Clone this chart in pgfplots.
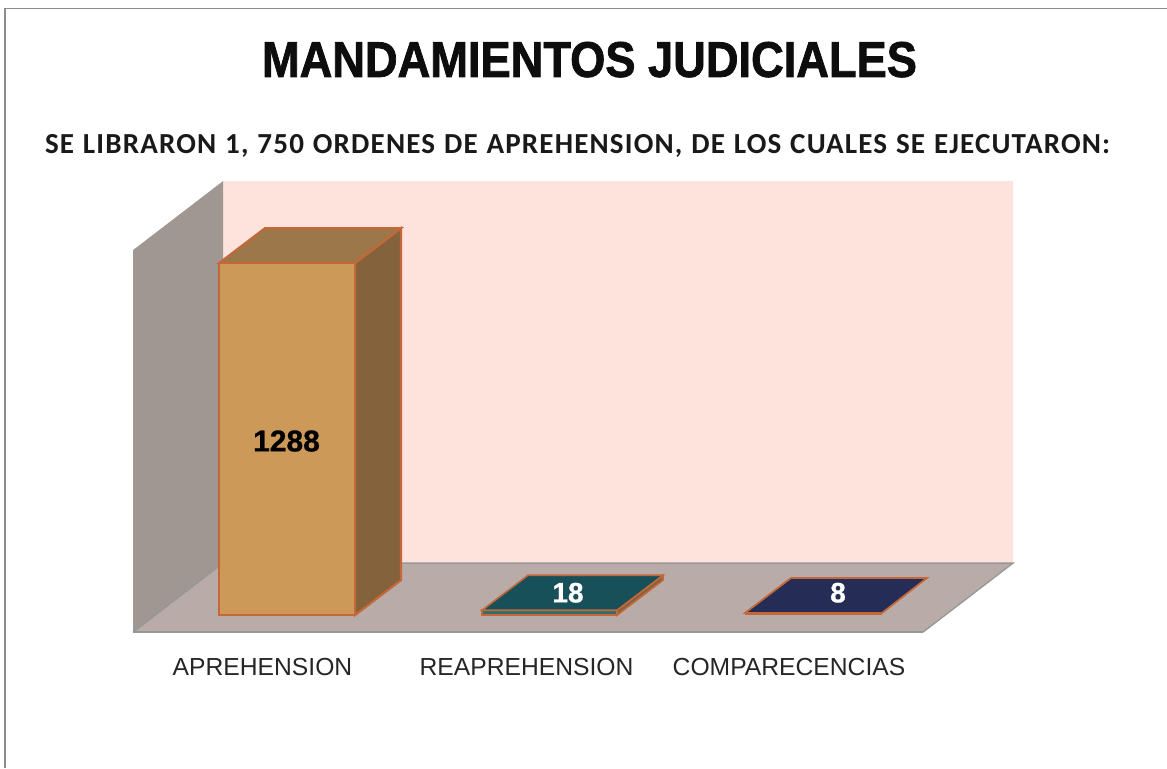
\documentclass[border=0pt]{standalone}
\usepackage{graphicx}
\usepackage{fontspec}
\setmainfont{Liberation Sans}
\newfontfamily\subfont[LetterSpace=4,WordSpace=1.15]{Carlito}
\newfontfamily\titlefont[FakeBold=1.6]{Liberation Sans Bold}
\newfontfamily\valuefont[FakeBold=0.8]{Liberation Sans Bold}
\usepackage{pgfplots}
\pgfplotsset{compat=1.18}

\definecolor{wallback}{HTML}{FDE3DC}
\definecolor{wallleft}{HTML}{A09692}
\definecolor{floorc}{HTML}{B9ABA7}
\definecolor{floorline}{HTML}{979797}
\definecolor{edgec}{HTML}{C4683A}
\definecolor{barfront}{HTML}{CD9958}
\definecolor{bartop}{HTML}{9C7749}
\definecolor{barside}{HTML}{84623B}
\definecolor{tealtop}{HTML}{18505A}
\definecolor{tealfront}{HTML}{2F6E70}
\definecolor{navytop}{HTML}{252D56}
\definecolor{framec}{HTML}{8C8C8C}

\begin{document}
\begin{tikzpicture}
\begin{axis}[
    scale only axis,
    width=875.25pt,
    height=576pt,
    xmin=0, xmax=1167,
    ymin=-559.8, ymax=2250.3,
    axis line style={draw=none},
    major tick length=0pt,
    ytick=\empty,
    xtick={262.5,526.5,789},
    xticklabels={APREHENSION,REAPREHENSION,COMPARECENCIAS},
    xticklabel style={anchor=center, yshift=75.75pt, font=\fontsize{18.5}{20}\selectfont, text=black!85},
]
% frame, only top and left are visible
\addplot[framec, line width=0.9pt] coordinates {(5,-559.8)(5,2221)(1167,2221)};

% walls and floor
\addplot[fill=wallback, draw=none] coordinates {(223,190.3)(223,1588)(1013,1588)(1013,190.3)} --cycle;
\addplot[fill=wallleft, draw=none] coordinates {(133,-62.2)(133,1335.5)(223,1588)(223,190.3)} --cycle;
\addplot[fill=floorc, draw=none] coordinates {(133,-62.2)(223,190.3)(1013,190.3)(923,-62.2)} --cycle;
\addplot[floorline, line width=1pt] coordinates {(133,-62.2)(223,190.3)(1013,190.3)(923,-62.2)};
\addplot[floorline, line width=1.5pt] coordinates {(133,-62.2)(923,-62.2)};

% APREHENSION 1288
\addplot[fill=barside, draw=edgec, line width=1.6pt] coordinates {(355,0)(401,128)(401,1416)(355,1288)} --cycle;
\addplot[fill=bartop, draw=edgec, line width=1.6pt] coordinates {(219,1288)(265,1416)(401,1416)(355,1288)} --cycle;
\addplot[fill=barfront, draw=edgec, line width=1.6pt] coordinates {(219,0)(219,1288)(355,1288)(355,0)} --cycle;

% REAPREHENSION 18
\addplot[fill=barside, draw=edgec, line width=1.2pt] coordinates {(617,0)(663,128)(663,146)(617,18)} --cycle;
\addplot[fill=tealfront, draw=edgec, line width=1.2pt] coordinates {(482,0)(482,18)(617,18)(617,0)} --cycle;
\addplot[fill=tealtop, draw=edgec, line width=1.2pt] coordinates {(482,18)(528,146)(663,146)(617,18)} --cycle;

% COMPARECENCIAS 8
\addplot[fill=navytop, draw=edgec, line width=1.3pt] coordinates {(745,8)(791,136)(927,136)(882,8)} --cycle;
\addplot[edgec, line width=1.6pt] coordinates {(745,3)(882,3)};

% value labels
\node[font=\valuefont\fontsize{22.5}{24}\selectfont] at (axis cs:286.5,637) {1288};
\node[font=\valuefont\fontsize{21}{22}\selectfont, text=white] at (axis cs:568,82) {18};
\node[font=\valuefont\fontsize{21}{22}\selectfont, text=white] at (axis cs:838,82) {8};

% title and subtitle
\node[text=black!95] at (axis cs:589.5,2032.6) {\resizebox{491.25pt}{26.25pt}{\titlefont MANDAMIENTOS JUDICIALES}};
\node[anchor=base, text=black!90] at (axis cs:577.5,1688) {\resizebox{798.75pt}{!}{\subfont\bfseries SE LIBRARON 1, 750 ORDENES DE APREHENSION, DE LOS CUALES SE EJECUTARON:}};
\end{axis}
\end{tikzpicture}
\end{document}
